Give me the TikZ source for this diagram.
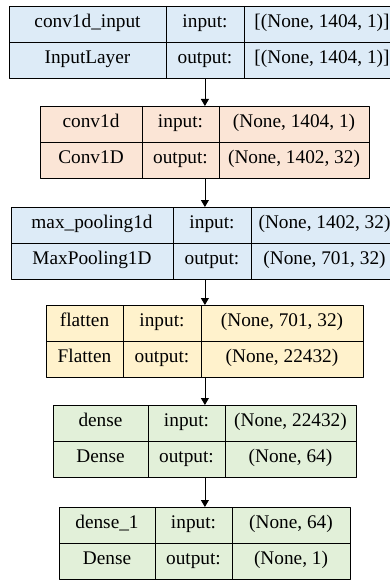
\documentclass[tikz,border=0pt]{standalone}
\usepackage{fontspec}
\setmainfont{Liberation Serif}
\usetikzlibrary{arrows.meta}
\definecolor{inblue}{HTML}{DDEBF7}
\definecolor{convpeach}{HTML}{FBE5D6}
\definecolor{flatyellow}{HTML}{FFF2CC}
\definecolor{densegreen}{HTML}{E2F0D9}
\begin{document}
\begin{tikzpicture}[x=1pt,y=-1pt, font=\fontsize{19.3}{23}\selectfont, line join=round, >={Triangle[length=7pt,width=8pt]},
	layer/.style={draw, line width=0.8pt, inner sep=0pt, anchor=north west, minimum height=72pt},
	txt/.style={inner sep=0pt, text height=0.9em, text depth=0.24em}]
	\useasboundingbox (0,0) rectangle (390,580);
	\clip (0,0) rectangle (390,580);
	% one box per layer: name, kind, input and output shapes
	\foreach \i/\t/\l/\a/\b/\r/\col/\nm/\kd/\vin/\vout in {
		1/6/9/166/244/400/inblue/conv1d\_input/InputLayer/{[(None, 1404, 1)]}/{[(None, 1404, 1)]},
		2/106/40/142/219/369/convpeach/conv1d/Conv1D/{(None, 1404, 1)}/{(None, 1402, 32)},
		3/207/11/173/251/398/inblue/max\_pooling1d/MaxPooling1D/{(None, 1402, 32)}/{(None, 701, 32)},
		4/305/46/123/201/363/flatyellow/flatten/Flatten/{(None, 701, 32)}/{(None, 22432)},
		5/405/53/148/225/356/densegreen/dense/Dense/{(None, 22432)}/{(None, 64)},
		6/507/59/155/232/350/densegreen/dense\_1/Dense/{(None, 64)}/{(None, 1)}}
	{
		\node[layer, fill=\col, minimum width={(\r-\l)*1pt}] (L\i) at (\l,\t) {};
		\draw[line width=0.8pt] (L\i.west) -- (L\i.east) (\a,\t) -- (\a,{\t+72}) (\b,\t) -- (\b,{\t+72});
		\node[txt] (L\i-nm) at ({(\l+\a)/2},{\t+18}) {\nm};
		\node[txt] (L\i-kd) at ({(\l+\a)/2},{\t+54}) {\kd};
		\node[txt] (L\i-in) at ({(\a+\b)/2},{\t+18}) {input:};
		\node[txt] (L\i-out) at ({(\a+\b)/2},{\t+54}) {output:};
		\node[txt] (L\i-vin) at ({(\b+\r)/2},{\t+18}) {\vin};
		\node[txt] (L\i-vout) at ({(\b+\r)/2},{\t+54}) {\vout};
	}
	\foreach \i/\j in {1/2,2/3,3/4,4/5,5/6} \draw[->, line width=0.8pt] (L\i) -- (L\j);
\end{tikzpicture}
\end{document}
